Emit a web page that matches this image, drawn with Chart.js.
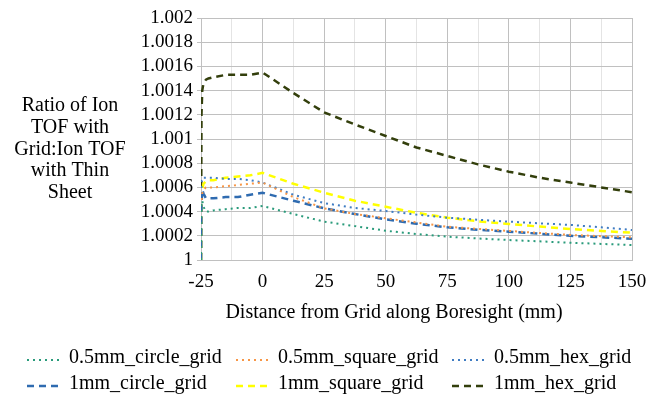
<!DOCTYPE html>
<html>
<head>
<meta charset="utf-8">
<script src="https://cdn.jsdelivr.net/npm/chart.js@4/dist/chart.umd.min.js"></script>
<style>
  html, body { margin: 0; padding: 0; background: #fff; }
  #wrap { width: 663px; height: 397px; position: relative; }
</style>
</head>
<body>
<div id="wrap"><canvas id="chart"></canvas></div>
<script>
// x positions (mm) shared by all series
let xValues = [-25, -24.8, -24.5, -24, -23, -22, -20, -15, -10, -5, 0,
  12.5, 25, 37.5, 50, 62.5, 75, 87.5, 100, 112.5, 125, 137.5, 150]

let circle05 = [1, 1.00047, 1.00049, 1.00044, 1.0004, 1.0004, 1.00041, 1.00042, 1.00043, 1.00043, 1.000446,
  1.00038, 1.000317, 1.00028, 1.000242, 1.000215, 1.000193, 1.000178, 1.000165, 1.000154, 1.000143, 1.000133, 1.000124]
let square05 = [1, 1.00048, 1.00055, 1.00058, 1.0006, 1.0006, 1.0006, 1.00061, 1.00062, 1.00063, 1.00064,
  1.00052, 1.000427, 1.00038, 1.000345, 1.00031, 1.000275, 1.000257, 1.00024, 1.000223, 1.000207, 1.000197, 1.000188]
let hex05 = [1, 1.00066, 1.00068, 1.00068, 1.00068, 1.00068, 1.00068, 1.00067, 1.00067, 1.00066, 1.00064,
  1.00054, 1.00047, 1.00043, 1.000405, 1.000375, 1.00035, 1.000333, 1.000317, 1.000303, 1.00029, 1.00027, 1.000248]
let circle1 = [1, 1.00045, 1.00058, 1.00055, 1.00051, 1.00051, 1.00051, 1.00052, 1.00052, 1.00054, 1.000556,
  1.00049, 1.000427, 1.00038, 1.000336, 1.0003, 1.00027, 1.00025, 1.000234, 1.000217, 1.0002, 1.000188, 1.000176]
let square1 = [1, 1.00048, 1.00058, 1.00063, 1.00065, 1.00066, 1.00066, 1.00068, 1.00069, 1.0007, 1.00072,
  1.00063, 1.000556, 1.00049, 1.00044, 1.00039, 1.00035, 1.00032, 1.000298, 1.000276, 1.000256, 1.00024, 1.000226]
let hex1 = [1, 1.0012, 1.0014, 1.00146, 1.00149, 1.0015, 1.00151, 1.00153, 1.00153, 1.00153, 1.00155,
  1.00138, 1.00122, 1.00112, 1.001025, 1.00093, 1.00086, 1.00079, 1.00073, 1.00068, 1.00064, 1.0006, 1.00056]

let seriesNames = ["0.5mm_circle_grid", "0.5mm_square_grid", "0.5mm_hex_grid",
  "1mm_circle_grid", "1mm_square_grid", "1mm_hex_grid"]
let seriesValues = [circle05, square05, hex05, circle1, square1, hex1]
let colors = ["#2a9b7b", "#f79646", "#3f7cc2", "#2f6bb0", "#ffff00", "#333f0c"]
let dotted = [true, true, true, false, false, false]

let xTicks = [-25, -12.5, 0, 12.5, 25, 37.5, 50, 62.5, 75, 87.5, 100, 112.5, 125, 137.5, 150]
let yTicks = [1, 1.0002, 1.0004, 1.0006, 1.0008, 1.001, 1.0012, 1.0014, 1.0016, 1.0018, 1.002]

let yTitle = ["Ratio of Ion", "TOF with", "Grid:Ion TOF", "with Thin", "Sheet"]
let xTitle = "Distance from Grid along Boresight (mm)"

const FONT = "Liberation Serif, Times New Roman, serif"

let datasets = seriesValues.map((vals, idx) => {
  return {
    label: seriesNames[idx],
    data: vals.map((v, i) => ({ x: xValues[i], y: v })),
    borderColor: colors[idx],
    borderWidth: dotted[idx] ? 2 : 2.5,
    borderDash: dotted[idx] ? [2, 4] : [7, 5],
    borderCapStyle: 'butt',
    pointRadius: 0,
    fill: false,
    tension: 0
  }
})

// titles and the grid-style legend are drawn by hand
let textPlugin = {
  id: 'texts',
  afterDraw: function (chart) {
    let ctx = chart.ctx
    ctx.save()
    ctx.fillStyle = '#000'
    ctx.font = "20px " + FONT
    ctx.textAlign = 'center'
    ctx.textBaseline = 'middle'
    yTitle.forEach((line, i) => ctx.fillText(line, 70, 106 + i * 21.7))
    ctx.fillText(xTitle, 394, 313)

    // legend: 3 columns x 2 rows
    let colX = [27, 236, 452]
    let rowY = [360, 386]
    chart.data.datasets.forEach((ds, i) => {
      let cx = colX[i % 3]
      let cy = rowY[Math.floor(i / 3)]
      ctx.beginPath()
      ctx.setLineDash(ds.borderDash)
      ctx.lineWidth = ds.borderWidth
      ctx.strokeStyle = ds.borderColor
      ctx.moveTo(cx, cy)
      ctx.lineTo(cx + 34, cy)
      ctx.stroke()
      ctx.setLineDash([])
      ctx.textAlign = 'left'
      ctx.fillText(ds.label, cx + 42, cy - 2)
    })
    ctx.restore()
  }
}

let config = {
  type: 'line',
  data: { datasets: datasets },
  options: {
    animation: false,
    responsive: false,
    layout: { padding: { top: 18, right: 31, left: 0, bottom: 0 } },
    plugins: { legend: { display: false }, tooltip: { enabled: false } },
    scales: {
      x: {
        type: 'linear',
        min: -25,
        max: 150,
        afterBuildTicks: (scale) => { scale.ticks = xTicks.map(v => ({ value: v })) },
        afterFit: (scale) => { scale.height = 137 },
        ticks: {
          autoSkip: false,
          maxRotation: 0,
          padding: 11,
          color: '#000',
          font: { family: FONT, size: 19 },
          callback: (v) => (v % 25 === 0 ? String(v) : '')
        },
        grid: {
          color: (c) => (c.tick && c.tick.value % 25 !== 0 ? '#e4e4e4' : '#c0c0c0'),
          tickLength: 4,
          drawTicks: false
        },
        border: { color: '#c0c0c0' }
      },
      y: {
        min: 1,
        max: 1.002,
        afterBuildTicks: (scale) => { scale.ticks = yTicks.map(v => ({ value: v })) },
        afterFit: (scale) => { scale.width = 201 },
        ticks: {
          autoSkip: false,
          padding: 4,
          color: '#000',
          font: { family: FONT, size: 19 },
          callback: (v) => String(Number(v.toFixed(4)))
        },
        grid: { color: '#c0c0c0', tickLength: 4 },
        border: { color: '#c0c0c0' }
      }
    }
  },
  plugins: [textPlugin]
}

let canvas = document.getElementById('chart')
canvas.width = 663
canvas.height = 397
new Chart(canvas.getContext('2d'), config)
</script>
</body>
</html>
